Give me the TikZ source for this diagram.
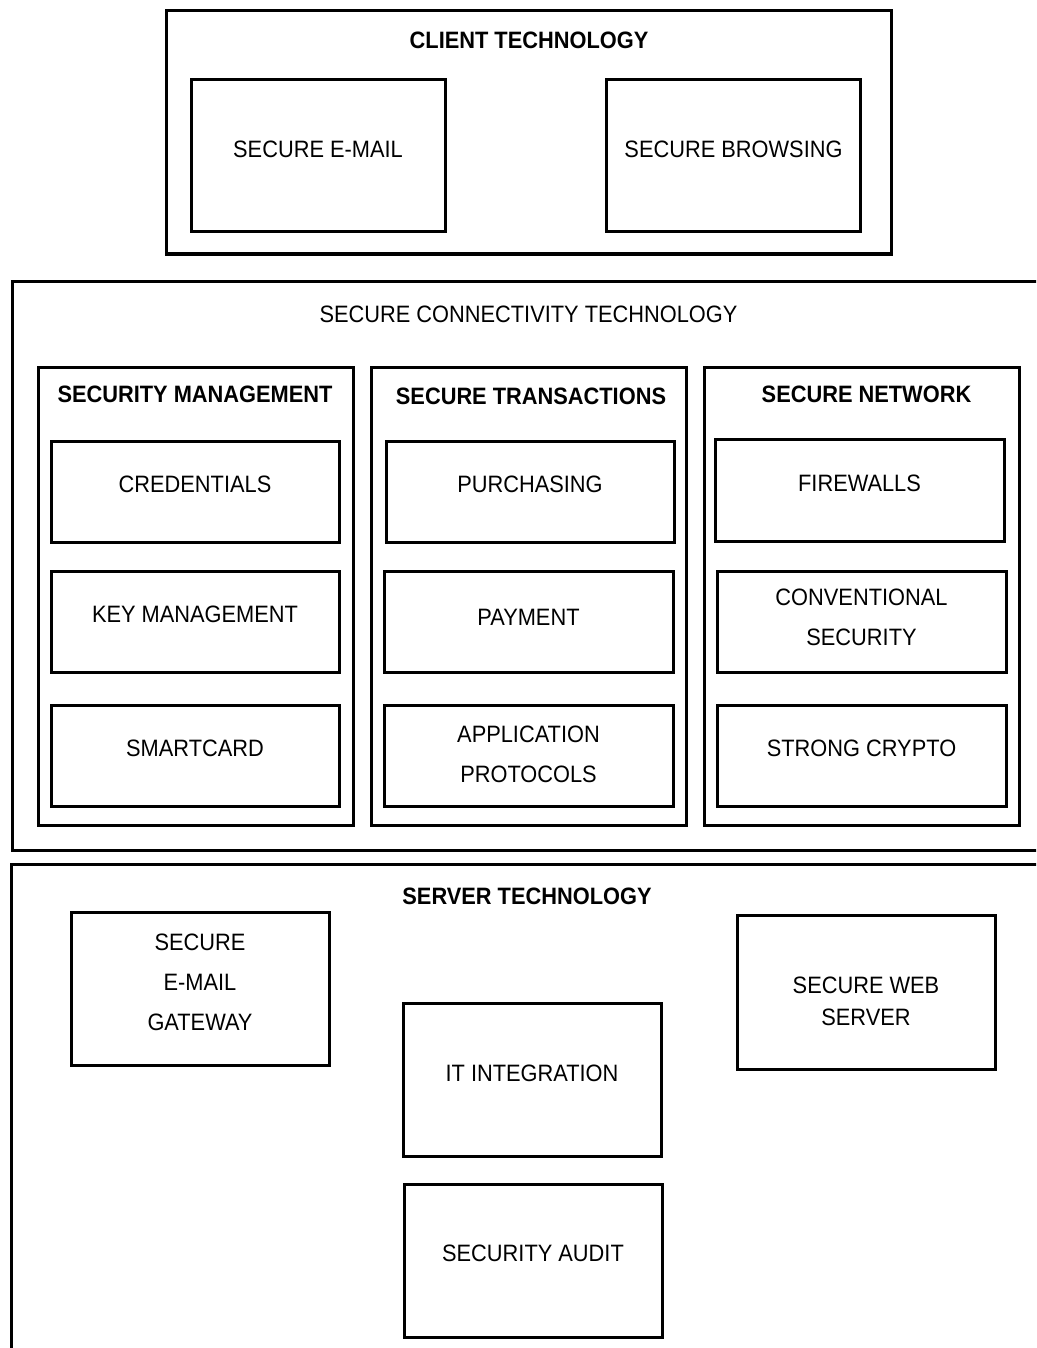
\documentclass[tikz,border=0pt]{standalone}
\usepackage{fontspec}
\setmainfont[FakeStretch=0.92]{Liberation Sans}
\tikzset{
  box/.style n args={2}{draw,line width=3pt,minimum width=#1pt,minimum height=#2pt,inner sep=0pt},
  lbl/.style={inner sep=0pt,align=center,font=\fontsize{23.7}{40}\selectfont},
  ttl/.style={inner sep=0pt,align=center,font=\fontsize{23.7}{40}\selectfont\bfseries}}
\begin{document}
\begin{tikzpicture}[x=1pt,y=-1pt]
\useasboundingbox (0,0) rectangle (1036,1348);
\clip (0,0) rectangle (1036,1348);
% client
\node[box={725}{243}] (client) at (528.5,132.5) {};
\node[ttl] (clientT) at (529,40) {CLIENT TECHNOLOGY};
\node[box={254}{152}] (email) at (318,156) {};
\node[lbl] (emailT) at (318,149) {SECURE E-MAIL};
\node[box={254}{152}] (browse) at (733,156) {};
\node[lbl] (browseT) at (733.5,149) {SECURE BROWSING};
% connectivity
\node[box={1033}{569}] (conn) at (528.5,565.5) {};
\node[lbl] (connT) at (528.5,314) {SECURE CONNECTIVITY TECHNOLOGY};
\node[box={315}{458}] (sm) at (195.5,596) {};
\node[ttl] (smT) at (195,394) {SECURITY MANAGEMENT};
\node[box={315}{458}] (st) at (528.5,596) {};
\node[ttl] (stT) at (531,396) {SECURE TRANSACTIONS};
\node[box={315}{458}] (sn) at (861.5,596) {};
\node[ttl] (snT) at (866.5,394) {SECURE NETWORK};
\node[box={288}{101}] (cred) at (195,491.5) {};
\node[lbl] (credT) at (195,484) {CREDENTIALS};
\node[box={288}{101}] (key) at (195,621.5) {};
\node[lbl] (keyT) at (195,614) {KEY MANAGEMENT};
\node[box={288}{101}] (smart) at (195,755.5) {};
\node[lbl] (smartT) at (195,748) {SMARTCARD};
\node[box={288}{101}] (purch) at (530,491.5) {};
\node[lbl] (purchT) at (530,484) {PURCHASING};
\node[box={289}{101}] (pay) at (528.5,621.5) {};
\node[lbl] (payT) at (528.5,617) {PAYMENT};
\node[box={289}{101}] (app) at (528.5,755.5) {};
\node[lbl] (appT) at (528.5,754) {APPLICATION\\PROTOCOLS};
\node[box={289}{102}] (fire) at (859.5,490) {};
\node[lbl] (fireT) at (859.5,483) {FIREWALLS};
\node[box={289}{101}] (conv) at (861.5,621.5) {};
\node[lbl] (convT) at (861.5,617) {CONVENTIONAL\\SECURITY};
\node[box={289}{101}] (crypto) at (861.5,755.5) {};
\node[lbl] (cryptoT) at (861.5,748) {STRONG CRYPTO};
% server
\node[box={1034}{506}] (server) at (528,1117) {};
\node[ttl] (serverT) at (527,896) {SERVER TECHNOLOGY};
\node[box={258}{153}] (gate) at (200,988.5) {};
\node[lbl] (gateT) at (200,982) {SECURE\\E-MAIL\\GATEWAY};
\node[box={258}{154}] (web) at (866,992) {};
\node[lbl,font=\fontsize{23.7}{32}\selectfont] (webT) at (866,1001) {SECURE WEB\\SERVER};
\node[box={258}{153}] (it) at (532,1079.5) {};
\node[lbl] (itT) at (532,1073) {IT INTEGRATION};
\node[box={258}{153}] (audit) at (533,1260.5) {};
\node[lbl] (auditT) at (533,1253) {SECURITY AUDIT};
\end{tikzpicture}
\end{document}
